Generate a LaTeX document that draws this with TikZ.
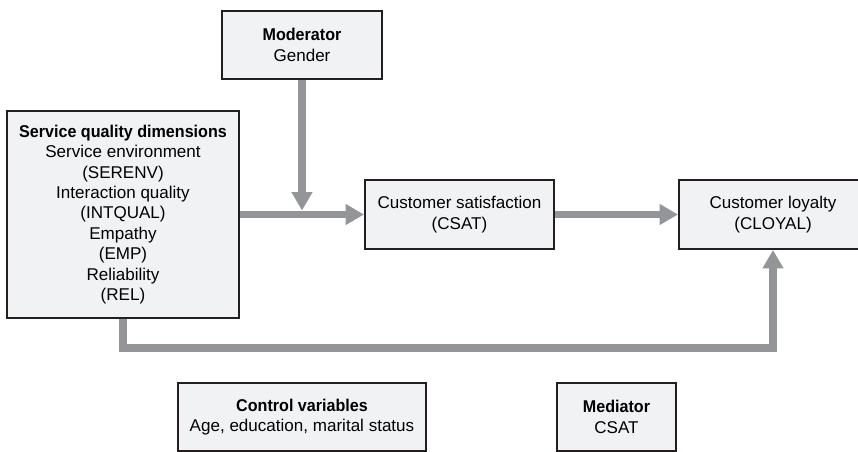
\documentclass[tikz,border=0pt]{standalone}
\usepackage{fontspec}
\setmainfont{Liberation Sans}[BoldFeatures={FakeStretch=0.945}]
\usetikzlibrary{arrows.meta,positioning}
\definecolor{fondo}{HTML}{F1F2F3}
\definecolor{borde}{HTML}{231F20}
\definecolor{flecha}{HTML}{939598}
\begin{document}
\begin{tikzpicture}[x=0.02cm, y=-0.02cm, font=\fontsize{9.7}{11.6}\selectfont,
  caja/.style={draw=borde, line width=1.1pt, fill=fondo, align=center, inner sep=0pt},
  enlace/.style={draw=flecha, line width=4.5pt, -{Triangle[length=10.5pt,width=11.3pt]}}]
\clip (0,0) rectangle (858,451);
\node[caja, minimum width=3.2cm, minimum height=1.36cm] (mod) at (302,45) {\textbf{Moderator}\\Gender};
\node[caja, minimum width=4.64cm, minimum height=4.14cm] (sqd) at (123,214.5) {\textbf{Service quality dimensions}\\Service environment\\(SERENV)\\Interaction quality\\(INTQUAL)\\Empathy\\(EMP)\\Reliability\\(REL)};
\node[caja, minimum width=3.78cm, minimum height=1.38cm] (csat) at (459.5,214.5) {Customer satisfaction\\(CSAT)};
\node[caja, minimum width=3.76cm, minimum height=1.38cm] (cloyal) at (773,214.5) {Customer loyalty\\(CLOYAL)};
\node[caja, minimum width=4.96cm, minimum height=1.36cm] (control) at (302,417) {\textbf{Control variables}\\Age, education, marital status};
\node[caja, minimum width=2.38cm, minimum height=1.36cm] (med) at (616.5,417) {\textbf{Mediator}\\CSAT};
\coordinate (cruce) at (mod.south |- csat.west);
\draw[enlace] (sqd) -- (csat);
\draw[enlace, shorten >=2.25pt] (mod) -- (cruce);
\draw[enlace] (csat) -- (cloyal);
\draw[enlace] (sqd.south) -- ++(0,29) -| (cloyal.south);
\end{tikzpicture}
\end{document}
